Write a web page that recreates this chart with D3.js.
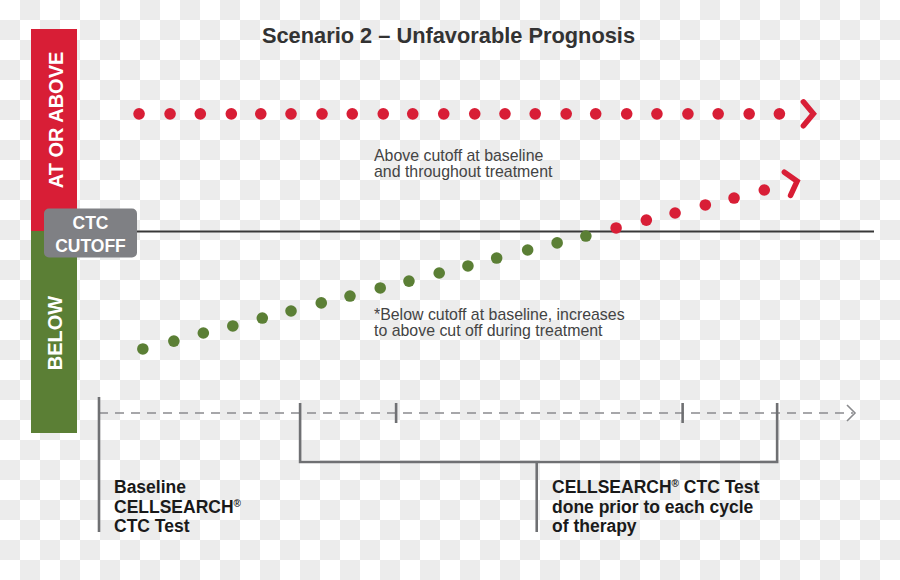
<!DOCTYPE html>
<html>
<head>
<meta charset="utf-8">
<script src="https://cdn.jsdelivr.net/npm/d3@7"></script>
<style>
  html, body { margin: 0; padding: 0; background: #fff; }
  svg { display: block; font-family: "Liberation Sans", Arial, Helvetica, sans-serif; }
</style>
</head>
<body>
<svg id="chart" width="900" height="580"></svg>
<script>
// ---------------- DATA ----------------
const title = "Scenario 2 \u2013 Unfavorable Prognosis";
const cutoffValue = 10;              // CTC cutoff level (relative units)
const levelDomain = [0, 20];         // relative CTC level range shown on the side bar
const timeDomain = [0, 100];         // relative time along the treatment timeline

// Series 1: above cutoff at baseline and throughout treatment
const aboveTimes  = [5.3, 9.4, 13.4, 17.5, 21.4, 25.4, 29.5, 33.5, 37.6, 41.5, 45.6,
                     49.7, 53.7, 57.7, 61.8, 65.7, 69.8, 73.8, 77.9, 81.9, 86.0, 90.0];
const aboveValues = [15.8, 15.8, 15.8, 15.8, 15.8, 15.8, 15.8, 15.8, 15.8, 15.8, 15.8,
                     15.8, 15.8, 15.8, 15.8, 15.8, 15.8, 15.8, 15.8, 15.8, 15.8, 15.8];

// Series 2: below cutoff at baseline, rising above cutoff during treatment
const risingTimes  = [5.8, 9.9, 13.8, 17.7, 21.6, 25.4, 29.4, 33.2, 37.2, 41.0, 45.0,
                      48.8, 52.6, 56.7, 60.6, 64.4, 68.4, 72.4, 76.2, 80.2, 84.0, 88.0];
const risingValues = [4.16, 4.55, 4.95, 5.30, 5.69, 6.04, 6.44, 6.78, 7.18, 7.52, 7.92,
                      8.27, 8.66, 9.06, 9.41, 9.75, 10.15, 10.54, 10.89, 11.29, 11.63, 12.03];

// Timeline markers (relative time)
const baselineTime = 0;
const cycleBracket = [26.6, 89.7];   // span of on-therapy tests
const cycleTicks   = [39.3, 77.2];   // intermediate cycle ticks
const bracketStem  = 57.9;

const bandLabels = ["AT OR ABOVE", "BELOW"];
const cutoffLabel = ["CTC", "CUTOFF"];
const aboveNote = ["Above cutoff at baseline", "and throughout treatment"];
const risingNote = ["*Below cutoff at baseline, increases", "to above cut off during treatment"];
const baselineLabel = ["Baseline", "CELLSEARCH", "CTC Test"];
const cycleLabel = ["CELLSEARCH", " CTC Test", "done prior to each cycle", "of therapy"];

// ---------------- STYLE ----------------
const RED = "#d81e36", GREEN = "#5b7f35", GRAY_BOX = "#7f8084";
const LINE_GRAY = "#6f7073";

// ---------------- DRAW ----------------
const svg = d3.select("#chart");
const W = 900, H = 580;

// checkerboard background (transparent-PNG look)
const defs = svg.append("defs");
const pat = defs.append("pattern").attr("id", "checker")
  .attr("width", 40).attr("height", 40).attr("patternUnits", "userSpaceOnUse");
pat.append("rect").attr("width", 40).attr("height", 40).attr("fill", "#ffffff");
pat.append("rect").attr("x", 20).attr("y", 0).attr("width", 20).attr("height", 20).attr("fill", "#ececec");
pat.append("rect").attr("x", 0).attr("y", 20).attr("width", 20).attr("height", 20).attr("fill", "#ececec");
svg.append("rect").attr("width", W).attr("height", H).attr("fill", "url(#checker)");

const x = d3.scaleLinear().domain(timeDomain).range([99, 855]);
const y = d3.scaleLinear().domain(levelDomain).range([433, 29]);

// Title
svg.append("text").attr("x", 448.5).attr("y", 43)
  .attr("text-anchor", "middle").attr("font-size", 21.8).attr("font-weight", "bold")
  .attr("fill", "#333").text(title);

// Side bar
svg.append("rect").attr("x", 31).attr("width", 46)
  .attr("y", y(levelDomain[1])).attr("height", y(cutoffValue) - y(levelDomain[1]))
  .attr("fill", RED);
svg.append("rect").attr("x", 31).attr("width", 46)
  .attr("y", y(cutoffValue)).attr("height", y(levelDomain[0]) - y(cutoffValue))
  .attr("fill", GREEN);

svg.append("text").attr("transform", `translate(63,${(y(20) + y(10)) / 2 - 10}) rotate(-90)`)
  .attr("text-anchor", "middle").attr("font-size", 20).attr("font-weight", "bold")
  .attr("fill", "#fff").text(bandLabels[0]);
svg.append("text").attr("transform", `translate(62,${(y(10) + y(0)) / 2 + 1}) rotate(-90)`)
  .attr("text-anchor", "middle").attr("font-size", 20).attr("font-weight", "bold")
  .attr("fill", "#fff").text(bandLabels[1]);

// Cutoff line
svg.append("line").attr("x1", 130).attr("x2", 874)
  .attr("y1", y(cutoffValue) + 0.5).attr("y2", y(cutoffValue) + 0.5)
  .attr("stroke", "#383838").attr("stroke-width", 2);

// Cutoff box
svg.append("rect").attr("x", 44).attr("y", y(cutoffValue) - 22.5)
  .attr("width", 93).attr("height", 49).attr("rx", 5)
  .attr("fill", GRAY_BOX);
svg.append("text").attr("x", 90.5).attr("font-size", 17.5).attr("font-weight", "bold")
  .attr("fill", "#fff").attr("text-anchor", "middle")
  .selectAll("tspan").data(cutoffLabel).join("tspan")
  .attr("x", 90.5).attr("y", (d, i) => y(cutoffValue) - 2 + i * 22.5).text(d => d);

// Dots
function drawSeries(times, values, colorFn) {
  const pts = times.map((t, i) => ({ t, v: values[i] }));
  svg.append("g").selectAll("circle").data(pts).join("circle")
    .attr("cx", d => x(d.t)).attr("cy", d => y(d.v)).attr("r", 5.8)
    .attr("fill", d => colorFn(d));
  return pts;
}
const colorByLevel = d => d.v >= cutoffValue ? RED : GREEN;
const abovePts = drawSeries(aboveTimes, aboveValues, colorByLevel);
const risingPts = drawSeries(risingTimes, risingValues, colorByLevel);

// Chevron arrowheads at series ends
function chevron(pts, color) {
  const a = pts[pts.length - 2], b = pts[pts.length - 1];
  const dx = x(b.t) - x(a.t), dy = y(b.v) - y(a.v);
  const ang = Math.atan2(dy, dx);
  const tipX = x(b.t) + Math.cos(ang) * 34, tipY = y(b.v) + Math.sin(ang) * 34;
  svg.append("path")
    .attr("d", "M-10,-12 L0,0 L-10,12")
    .attr("transform", `translate(${tipX},${tipY}) rotate(${ang * 180 / Math.PI})`)
    .attr("fill", "none").attr("stroke", color).attr("stroke-width", 5.5)
    .attr("stroke-linecap", "round").attr("stroke-linejoin", "miter");
}
chevron(abovePts, RED);
chevron(risingPts, RED);

// Notes
function note(lines, x0, y0) {
  svg.append("text").attr("font-size", 15.9).attr("fill", "#444")
    .selectAll("tspan").data(lines).join("tspan")
    .attr("x", x0).attr("y", (d, i) => y0 + i * 15.5).text(d => d);
}
note(aboveNote, 374, 161);
note(risingNote, 374, 320);

// Timeline
const tl = svg.append("g").attr("stroke", LINE_GRAY).attr("fill", "none");
const tlY = 413;
tl.append("line").attr("x1", x(baselineTime)).attr("x2", x(timeDomain[1]) - 2)
  .attr("y1", tlY).attr("y2", tlY)
  .attr("stroke", "#8a8b8e").attr("stroke-width", 1.6).attr("stroke-dasharray", "9,7");
tl.append("path").attr("d", `M${x(timeDomain[1]) - 8},${tlY - 8} L${x(timeDomain[1])},${tlY} L${x(timeDomain[1]) - 8},${tlY + 8}`)
  .attr("stroke", "#8a8b8e").attr("stroke-width", 1.6);
// baseline vertical
tl.append("line").attr("x1", x(baselineTime)).attr("x2", x(baselineTime))
  .attr("y1", 397).attr("y2", 532).attr("stroke-width", 2.6);
// bracket
tl.append("path")
  .attr("d", `M${x(cycleBracket[0])},403 V462 H${x(cycleBracket[1])} V403`)
  .attr("stroke-width", 2.6);
tl.append("line").attr("x1", x(bracketStem)).attr("x2", x(bracketStem))
  .attr("y1", 462).attr("y2", 532).attr("stroke-width", 2.6);
tl.selectAll(".tick").data(cycleTicks).join("line").attr("class", "tick")
  .attr("x1", d => x(d)).attr("x2", d => x(d)).attr("y1", 403).attr("y2", 423)
  .attr("stroke-width", 2.6);

// Bottom labels
const lblBase = svg.append("text").attr("font-size", 17.5).attr("font-weight", "bold").attr("fill", "#1a1a1a");
lblBase.append("tspan").attr("x", 114).attr("y", 493).text(baselineLabel[0]);
lblBase.append("tspan").attr("x", 114).attr("y", 512.5).text(baselineLabel[1]);
lblBase.append("tspan").attr("font-size", 10).attr("dy", -6).text("\u00AE");
lblBase.append("tspan").attr("x", 114).attr("y", 532).text(baselineLabel[2]);

const lblCyc = svg.append("text").attr("font-size", 17.5).attr("font-weight", "bold").attr("fill", "#1a1a1a");
lblCyc.append("tspan").attr("x", 552).attr("y", 493).text(cycleLabel[0]);
lblCyc.append("tspan").attr("font-size", 10).attr("dy", -6).text("\u00AE");
lblCyc.append("tspan").attr("dy", 6).text(cycleLabel[1]);
lblCyc.append("tspan").attr("x", 552).attr("y", 512.5).text(cycleLabel[2]);
lblCyc.append("tspan").attr("x", 552).attr("y", 532).text(cycleLabel[3]);
</script>
</body>
</html>
